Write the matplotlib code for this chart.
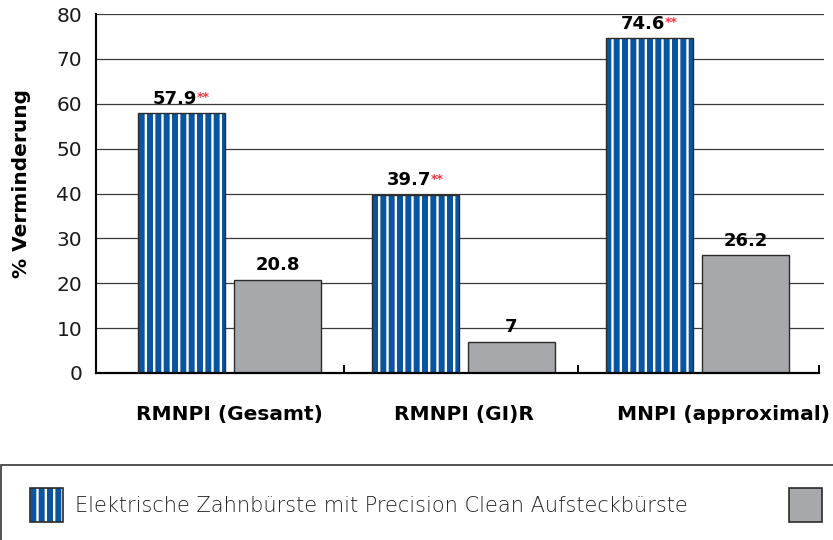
import matplotlib
matplotlib.use("Agg")
import numpy as np
import matplotlib.pyplot as plt
from matplotlib.patches import Rectangle

# --- données ---
categories = ["RMNPI (Gesamt)", "RMNPI (GI)R", "MNPI (approximal)"]
elektrisch = [57.9, 39.7, 74.6]
vergleich = [20.8, 7, 26.2]
signifikant = ["**", "**", "**"]
y_ticks = [0, 10, 20, 30, 40, 50, 60, 70, 80]
legend_labels = ["Elektrische Zahnbürste mit Precision Clean Aufsteckbürste", ""]

blue = "#0A55A0"
grey = "#A7A8AB"
edge = "#2B2B2B"
red = "#F2353F"

plt.rcParams["hatch.color"] = "white"
plt.rcParams["hatch.linewidth"] = 1.7

fig = plt.figure(figsize=(8.33, 5.40), dpi=100)
ax = fig.add_axes([96 / 833, 1 - 373 / 540, (824 - 96) / 833, (373 - 14) / 540])

x = np.arange(len(categories))
w = 0.37
off = 0.205

# barres bleues rayées + contour
ax.bar(x - off, elektrisch, w, color=blue, edgecolor="white", hatch="||", linewidth=0, zorder=2)
ax.bar(x - off, elektrisch, w, fill=False, edgecolor=edge, linewidth=1.0, zorder=3)
ax.bar(x + off, vergleich, w, color=grey, edgecolor=edge, linewidth=1.0, zorder=2)

# étiquettes de valeurs
for xi, v, s in zip(x, elektrisch, signifikant):
    t = ax.annotate(f"{v:g}", xy=(xi - off, v), xytext=(-5, 4), textcoords="offset points",
                    ha="center", va="bottom", fontsize=13, fontweight="bold", color="black")
    ax.annotate(s, xy=(1, 0.92), xycoords=t, ha="left", va="top",
                fontsize=9, fontweight="bold", color=red)
for xi, v in zip(x, vergleich):
    ax.annotate(f"{v:g}", xy=(xi + off, v), xytext=(0, 4), textcoords="offset points",
                ha="center", va="bottom", fontsize=13, fontweight="bold", color="black")

ax.set_xlim(-0.57, 2.54)
ax.set_ylim(0, 80)
ax.set_yticks(y_ticks)
ax.tick_params(axis="y", length=0, pad=10, labelsize=14.5, labelcolor="#1a1a1a")
ax.set_xticks([0, 1, 2.11], categories)
ax.tick_params(axis="x", which="major", length=0, pad=23, labelsize=14.5)
for lab in ax.get_xticklabels():
    lab.set_fontweight("bold")
ax.set_xticks([0.49, 1.49, 2.52], minor=True)
ax.tick_params(axis="x", which="minor", direction="in", length=6, width=1.4, color="black")

ax.yaxis.grid(True, color="#3a3a3a", linewidth=0.9)
ax.set_axisbelow(True)
for sp in ["top", "right"]:
    ax.spines[sp].set_visible(False)
ax.spines["left"].set_linewidth(1.5)
ax.spines["bottom"].set_linewidth(1.6)
ax.spines["bottom"].set_bounds(-0.57, 2.52)

ax.set_ylabel("% Verminderung", fontsize=14.5, fontweight="bold")
ax.yaxis.set_label_coords((31 - 96) / 728, (373 - 183) / 359)

# --- légende (boîte en bas) ---
fig.patches.append(Rectangle((0.5 / 833, -0.2), 1.3, (540 - 465) / 540 + 0.2,
                             transform=fig.transFigure, fill=False,
                             edgecolor="#333333", linewidth=1.2))
ph = 34 / 540
pw = 33 / 833
py = 1 - 522 / 540
fig.patches.append(Rectangle((30 / 833, py), pw, ph, transform=fig.transFigure,
                             facecolor=blue, edgecolor="white", hatch="||", linewidth=0))
fig.patches.append(Rectangle((30 / 833, py), pw, ph, transform=fig.transFigure,
                             fill=False, edgecolor=edge, linewidth=1.2))
fig.patches.append(Rectangle((789 / 833, py), pw, ph, transform=fig.transFigure,
                             facecolor=grey, edgecolor=edge, linewidth=1.2))
fig.text(75 / 833, 1 - 506 / 540, legend_labels[0], ha="left", va="center",
         fontsize=15, family="DejaVu Sans", fontweight="light", color="#222222")

fig.savefig("out.png", dpi=100)
